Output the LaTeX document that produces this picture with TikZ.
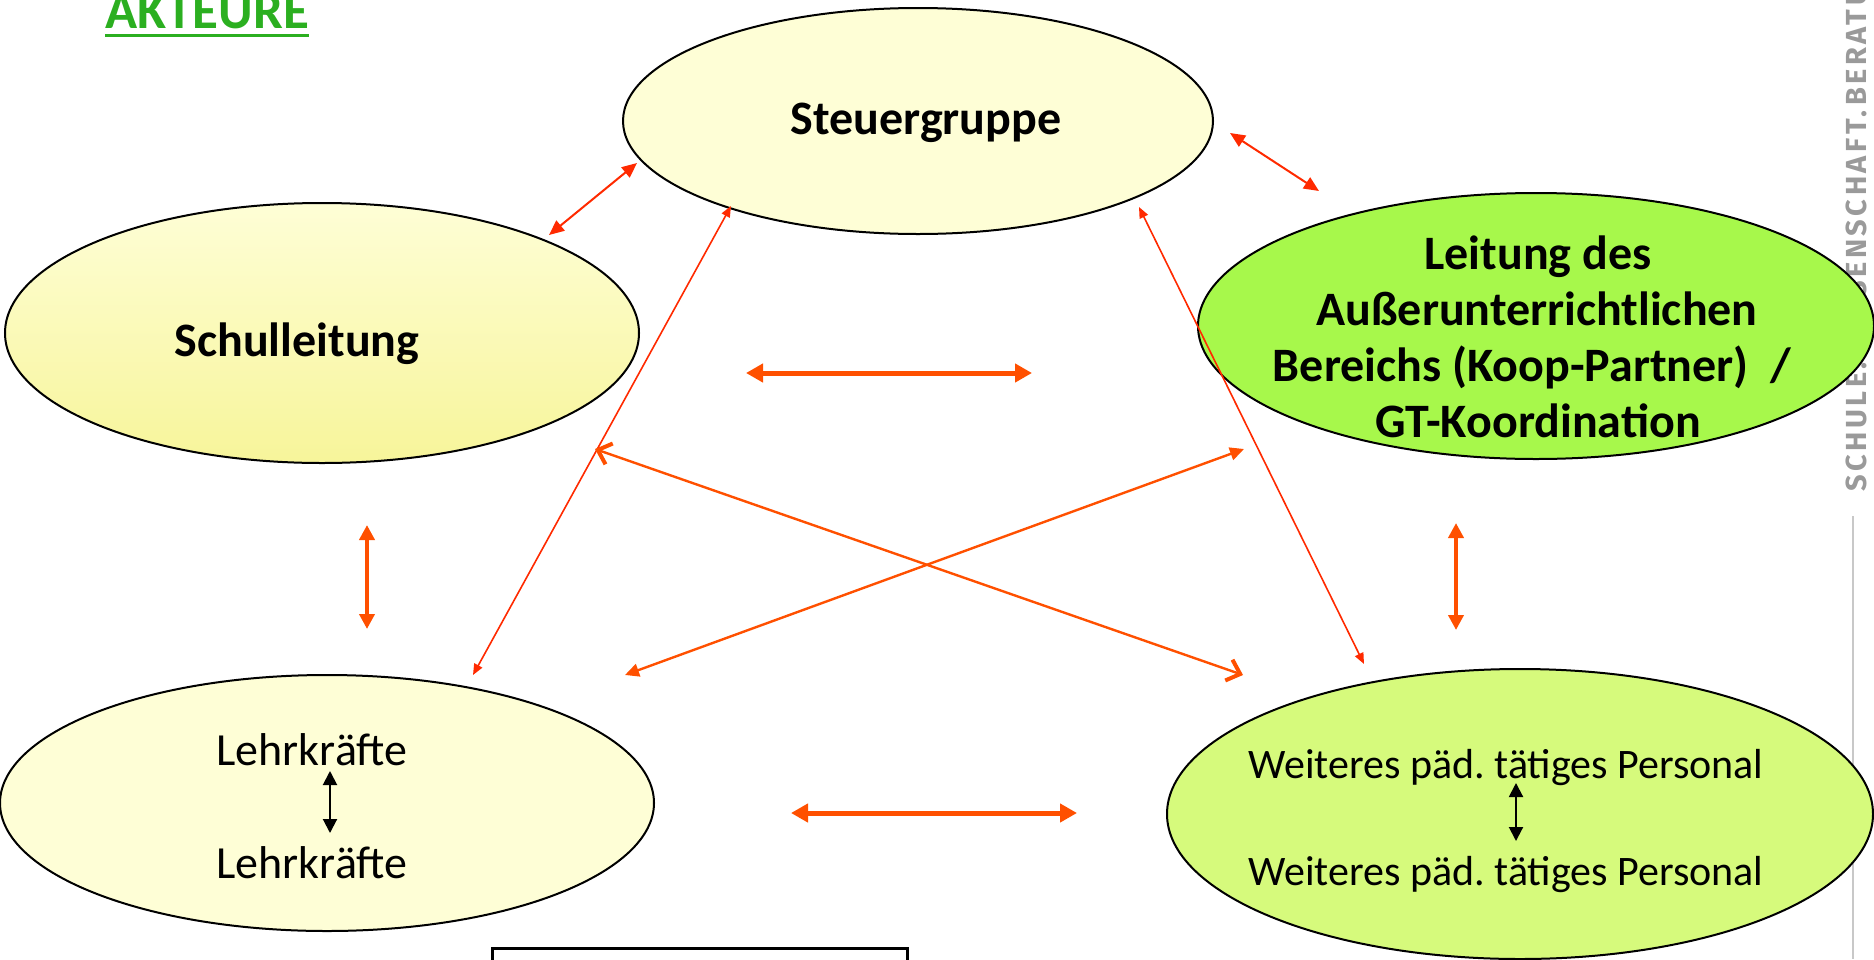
\documentclass[tikz,border=0pt]{standalone}
\usepackage{fontspec}
\setmainfont{Carlito}
\newfontfamily\logofont[LetterSpace=12]{Fira Sans}
\usetikzlibrary{arrows.meta, positioning, shapes.geometric}
\definecolor{paleyellow}{HTML}{FEFED6}
\definecolor{softyellow}{HTML}{F7F59A}
\definecolor{brightgreen}{HTML}{A7F84B}
\definecolor{limegreen}{HTML}{D6FA7C}
\definecolor{titlegreen}{HTML}{2BAF20}
\definecolor{arrowred}{HTML}{FF2A00}
\definecolor{arroworange}{HTML}{FF5000}
\definecolor{logogray}{HTML}{9A9A9A}
\definecolor{rulegray}{HTML}{C8C8C8}

\begin{document}
\begin{tikzpicture}[x=0.5pt, y=-0.5pt,
   ell/.style={draw=black, line width=1pt, ellipse, inner sep=0pt, outer sep=0pt},
   bold/.style={font=\fontsize{24}{28}\selectfont\bfseries, anchor=base, inner sep=0pt},
   plain/.style={font=\fontsize{23}{28}\selectfont, anchor=base, inner sep=0pt},
   small/.style={font=\fontsize{21}{26}\selectfont, anchor=base, inner sep=0pt},
   redarr/.style={<->, draw=arrowred, line width=1pt, >={Triangle[length=7.5pt,width=6.5pt]}},
   longarr/.style={<->, draw=arrowred, line width=0.8pt, >={Triangle[length=5.5pt,width=4.5pt]}},
   fatarr/.style={<->, draw=arroworange, line width=2.5pt, >={Triangle[length=8.5pt,width=9pt]}},
   vertarr/.style={<->, draw=arroworange, line width=2pt, >={Triangle[length=7.5pt,width=7.5pt]}},
   crossarr/.style={<->, draw=arroworange, line width=1.2pt, >={Triangle[length=7pt,width=6.5pt]}},
   barbarr/.style={<->, draw=arroworange, line width=1.2pt, >={Straight Barb[length=6pt,width=11pt,line width=2pt]}},
   inarr/.style={<->, draw=black, line width=1pt, >={Triangle[length=7pt,width=7pt]}}]
  \useasboundingbox (0,0) rectangle (1874,959);
  \clip (0,0) rectangle (1874,959);

  % title and side logo
  \node[inner sep=0pt, anchor=base west, text=titlegreen, font=\fontsize{26.5}{30}\selectfont\bfseries] (title) at (105,28) {AKTEURE};
  \draw[titlegreen, line width=1.3pt] ([yshift=-3.8pt]title.base west) -- ([yshift=-3.8pt]title.base east);
  \node[inner sep=0pt, anchor=base west, rotate=90, text=logogray, font=\logofont\fontsize{14.5}{16}\selectfont\bfseries] (logo) at (1866,492) {SCHULE.\,WISSENSCHAFT.\,BERATUNG};
  \coordinate (rtop) at (1853,516); \coordinate (rbot) at (1853,959);
  \draw[rulegray, line width=1pt] (rtop) -- (rbot);

  % actors
  \node[ell, fill=paleyellow, minimum width=295pt, minimum height=113pt] (sg) at (918,121) {};
  \node[ell, top color=paleyellow, bottom color=softyellow, minimum width=317pt, minimum height=130pt] (sl) at (322,333) {};
  \node[ell, fill=brightgreen, minimum width=338pt, minimum height=133pt] (lb) at (1536,326) {};
  \node[ell, fill=paleyellow, minimum width=327pt, minimum height=128pt] (lk) at (327,803) {};
  \node[ell, fill=limegreen, minimum width=353pt, minimum height=145pt] (wp) at (1520,814) {};
  \node[draw=black, line width=1.5pt, fill=white, minimum width=207.5pt, minimum height=20pt, inner sep=0pt] (box) at (699.5,968) {};

  \node[bold] (sgt) at (926,134) {Steuergruppe};
  \node[bold] (slt) at (297,356) {Schulleitung};
  \node[bold] (lb1) at (1538,269) {Leitung des};
  \node[bold] (lb2) at (1537,325) {Außerunterrichtlichen};
  \node[bold] (lb3) at (1532,381) {Bereichs (Koop-Partner)\ \ /};
  \node[bold] (lb4) at (1538,437) {GT-Koordination};
  \node[plain] (lk1) at (312,765) {Lehrkräfte};
  \node[plain] (lk2) at (312,878) {Lehrkräfte};
  \node[small] (wp1) at (1506,778) {Weiteres päd.\ tätiges Personal};
  \node[small] (wp2) at (1506,885) {Weiteres päd.\ tätiges Personal};

  % arrow ends
  \coordinate (a1) at (637,163); \coordinate (a2) at (549,235);
  \coordinate (b1) at (1230,133); \coordinate (b2) at (1319,191);
  \coordinate (c1) at (731,206); \coordinate (c2) at (473,675);
  \coordinate (d1) at (1139,207); \coordinate (d2) at (1364,664);
  \coordinate (e1) at (746,373); \coordinate (e2) at (1032,373);
  \coordinate (f1) at (791,813); \coordinate (f2) at (1077,813);
  \coordinate (g1) at (367,525); \coordinate (g2) at (367,629);
  \coordinate (h1) at (1456,523); \coordinate (h2) at (1456,630);
  \coordinate (i1) at (595,449); \coordinate (i2) at (1243,675);
  \coordinate (j1) at (1244,449); \coordinate (j2) at (625,675);
  \coordinate (k1) at (330,771); \coordinate (k2) at (330,833);
  \coordinate (m1) at (1516,783); \coordinate (m2) at (1516,841);

  \draw[redarr] (a1) -- (a2); \draw[redarr] (b1) -- (b2);
  \draw[longarr] (c1) -- (c2); \draw[longarr] (d1) -- (d2);
  \draw[fatarr] (e1) -- (e2); \draw[fatarr] (f1) -- (f2);
  \draw[vertarr] (g1) -- (g2); \draw[vertarr] (h1) -- (h2);
  \draw[barbarr] (i1) -- (i2); \draw[crossarr] (j1) -- (j2);
  \draw[inarr] (k1) -- (k2); \draw[inarr] (m1) -- (m2);
\end{tikzpicture}
\end{document}
